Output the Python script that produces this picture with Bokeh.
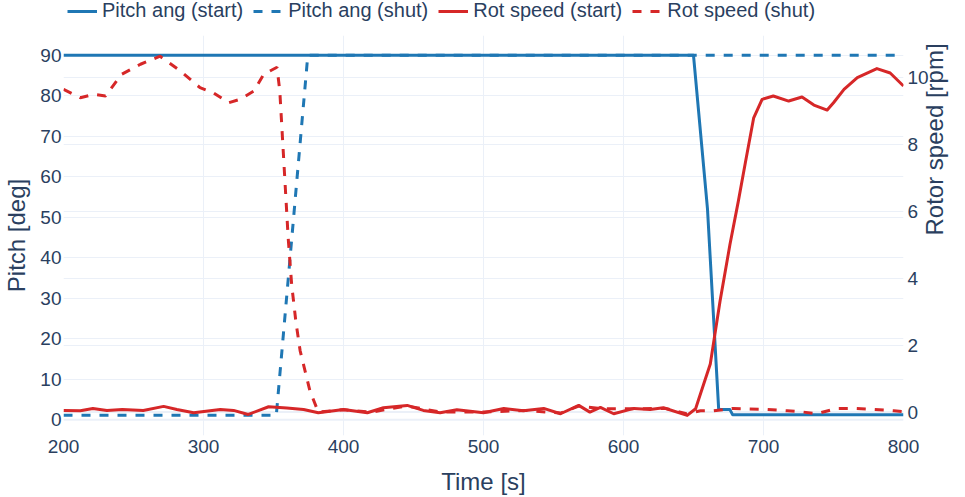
import math
from bokeh.plotting import figure
from bokeh.layouts import column
from bokeh.models import Range1d, LinearAxis, Grid, FixedTicker, Legend, LegendItem, Span
from bokeh.embed import file_html
from bokeh.resources import INLINE

# ---- data ----
time_pitch_start = [200, 650, 660, 668, 676, 678, 800]
pitch_start = [90, 90, 52, 2.5, 2.5, 1.2, 1.2]

time_pitch_shut = [200, 352, 374.5, 800]
pitch_shut = [1.1, 1.1, 90, 90]

time_rot_start = [200, 212, 221, 231, 242, 257, 271.5, 281, 293, 312,
                  321.5, 332, 346.5, 359.5, 371.5, 382, 400, 417, 428.5, 445.5,
                  457, 469, 481, 500, 514.5, 528.5, 543, 555, 568, 576,
                  583.5, 593, 607.5, 619, 628.5, 645.5, 651.5, 654, 662, 669,
                  676, 682, 687, 693, 699, 707, 718, 727.5, 736, 745.5,
                  750, 757.5, 767, 781, 790.5, 800]
rot_start = [0.05, 0.04, 0.11, 0.05, 0.08, 0.05, 0.17, 0.08, -0.02, 0.08,
             0.05, -0.07, 0.16, 0.12, 0.08, -0.02, 0.08, -0.02, 0.13, 0.2,
             0.05, -0.02, 0.07, -0.02, 0.11, 0.04, 0.11, -0.05, 0.2, 0.0,
             0.14, -0.05, 0.11, 0.08, 0.13, -0.1, 0.1, 0.42, 1.44, 3.33,
             5.0, 6.3, 7.45, 8.8, 9.35, 9.45, 9.3, 9.42, 9.18, 9.03,
             9.25, 9.65, 10.0, 10.27, 10.14, 9.75]

time_rot_shut = [200, 212, 221.5, 230, 241.5, 255, 269, 283.5, 297.5,
                 307, 318, 326, 336, 343, 352.5, 354.5, 360.5, 363, 366,
                 369, 376, 382, 400, 420, 445, 470, 500, 530, 555,
                 568, 585, 605, 630, 645, 655, 664.5, 678.5, 702.5, 717,
                 726.5, 738, 752.5, 764.5, 779, 793, 800]
rot_shut = [9.65, 9.4, 9.5, 9.45, 10.1, 10.4, 10.64, 10.2, 9.7,
            9.55, 9.25, 9.35, 9.6, 10.1, 10.31, 9.6, 5.2, 3.8, 2.7,
            1.84, 0.64, 0.0, 0.07, 0.0, 0.18, 0.0, 0.0, 0.05, -0.03,
            0.18, 0.1, 0.1, 0.11, -0.05, 0.04, 0.04, 0.11, 0.08, 0.04,
            0.01, -0.05, 0.11, 0.11, 0.08, 0.04, 0.01]

x_ticks = [200, 300, 400, 500, 600, 700, 800]
pitch_ticks = [0, 10, 20, 30, 40, 50, 60, 70, 80, 90]
rpm_ticks = [0, 2, 4, 6, 8, 10]

labels = ["Pitch ang (start)", "Pitch ang (shut)", "Rot speed (start)", "Rot speed (shut)"]

# ---- styling ----
BLUE = "#1f77b4"
RED = "#d62728"
TXT = "#2a3f5f"
GRID = "#EBF0F8"
FONT = "Liberation Sans"
styles = [(BLUE, None), (BLUE, "9 9"), (RED, None), (RED, "9 9")]
series = [(time_pitch_start, pitch_start), (time_pitch_shut, pitch_shut),
          (time_rot_start, rot_start), (time_rot_shut, rot_shut)]

# ---- legend strip (separate small figure above the chart) ----
# its ranges exclude the data, so only the legend entries show
leg = figure(width=965, height=35, output_backend="svg", toolbar_location=None,
             x_range=Range1d(0, 1), y_range=Range1d(0, 1),
             x_axis_location=None, y_axis_location=None,
             min_border_left=0, min_border_right=0, min_border_top=0, min_border_bottom=0)
leg.outline_line_color = None
leg.grid.visible = False
leg_items = []
for lab, (col, dash), (xs, ys) in zip(labels, styles, series):
    kw = dict(line_color=col, line_width=3)
    if dash:
        kw["line_dash"] = dash
    rr = leg.line(xs, ys, **kw)
    leg_items.append(LegendItem(label=lab, renderers=[rr]))
legend = Legend(items=leg_items, orientation="horizontal", location=(4, 13),
                glyph_width=30, glyph_height=20, label_height=20, label_standoff=5, spacing=10,
                padding=0, margin=0, border_line_color=None, background_fill_alpha=0,
                label_text_font=FONT, label_text_font_size="20px", label_text_color=TXT)
leg.add_layout(legend)

# ---- main chart ----
p = figure(width=965, height=462, output_backend="svg", toolbar_location=None,
           x_range=Range1d(200, 800), y_range=Range1d(-3.9, 94.9),
           min_border_left=63, min_border_right=62, min_border_top=0, min_border_bottom=62)
p.extra_y_ranges = {"rpm": Range1d(-0.70, 11.26)}
p.outline_line_color = None
p.background_fill_color = "white"

# grids
p.xgrid.ticker = FixedTicker(ticks=x_ticks)
p.ygrid.ticker = FixedTicker(ticks=[t for t in pitch_ticks if t != 0])
for g in (p.xgrid, p.ygrid):
    g.grid_line_color = GRID
    g.grid_line_width = 1
g2 = Grid(dimension=1, ticker=FixedTicker(ticks=[t for t in rpm_ticks if t != 0]),
          y_range_name="rpm", grid_line_color=GRID, grid_line_width=1)
p.add_layout(g2)
p.add_layout(Span(location=0, dimension="width", line_color=GRID, line_width=2, level="underlay"))
p.add_layout(Span(location=0, dimension="width", line_color=GRID, line_width=2,
                  y_range_name="rpm", level="underlay"))

# lines
p.line(time_pitch_start, pitch_start, line_color=BLUE, line_width=3, line_join="round")
p.line(time_pitch_shut, pitch_shut, line_color=BLUE, line_width=3, line_dash="9 9")
p.line(time_rot_start, rot_start, line_color=RED, line_width=3, line_join="round", y_range_name="rpm")
p.line(time_rot_shut, rot_shut, line_color=RED, line_width=3, line_dash="9 9", y_range_name="rpm")

# axes
p.xaxis.ticker = FixedTicker(ticks=x_ticks)
p.yaxis.ticker = FixedTicker(ticks=pitch_ticks)
p.xaxis.axis_label = "Time [s]"
p.yaxis.axis_label = "Pitch [deg]"

ax2 = LinearAxis(y_range_name="rpm", ticker=FixedTicker(ticks=rpm_ticks), axis_label="Rotor speed [rpm]")
p.add_layout(ax2, "right")

for ax in (p.xaxis[0], p.yaxis[0], ax2):
    ax.axis_line_color = None
    ax.major_tick_line_color = None
    ax.minor_tick_line_color = None
    ax.major_tick_out = 0
    ax.major_tick_in = 0
    ax.major_label_text_font = FONT
    ax.major_label_text_font_size = "19px"
    ax.major_label_text_color = TXT
    ax.axis_label_text_font = FONT
    ax.axis_label_text_font_size = "24px"
    ax.axis_label_text_font_style = "normal"
    ax.axis_label_text_color = TXT

p.xaxis.major_label_standoff = 4
p.xaxis.axis_label_standoff = 12
p.yaxis.major_label_standoff = 2
p.yaxis.axis_label_standoff = 7
ax2.major_label_standoff = 4
ax2.axis_label_standoff = 3
if "axis_label_orientation" in ax2.properties():
    ax2.axis_label_orientation = math.pi / 2

layout = column(leg, p, spacing=0)
open("out.html", "w").write(file_html(layout, INLINE))
